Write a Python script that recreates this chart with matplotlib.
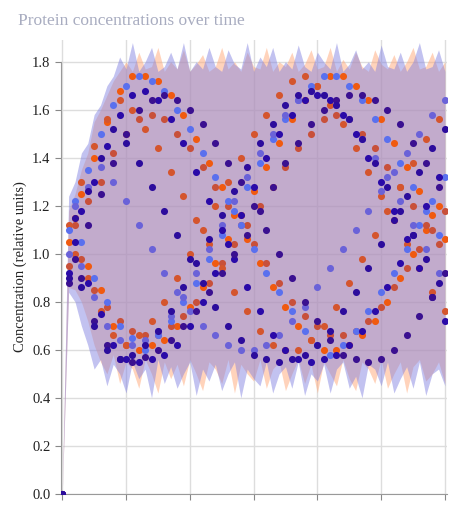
import numpy as np
import matplotlib
matplotlib.use("Agg")
import matplotlib.pyplot as plt

series_blue_a = [0,1.10,1.22,1.05,1.35,0.90,1.50,0.80,1.62,0.70,1.70,0.65,1.74,0.60,1.72,0.66,1.68,0.72,1.60,0.80,1.52,0.88,1.42,0.98,1.32,1.08,1.22,1.18,1.12,1.28,1.02,1.38,0.92,1.48,0.84,1.56,0.76,1.64,0.68,1.70,0.62,1.74,0.58,1.74,0.62,1.70,0.68,1.64,0.76,1.56,0.84,1.48,0.92,1.38,1.02,1.28,1.12,1.18,1.22,1.08,1.32]
series_dark_b = [0,0.92,1.05,1.18,0.88,1.30,0.75,1.45,0.62,1.58,0.56,1.66,0.55,1.68,0.56,1.64,0.58,1.56,0.62,1.46,0.70,1.34,0.80,1.22,0.92,1.10,1.04,0.98,1.16,0.86,1.28,0.76,1.40,0.66,1.50,0.60,1.58,0.56,1.64,0.55,1.66,0.56,1.64,0.58,1.58,0.62,1.50,0.68,1.40,0.76,1.30,0.86,1.18,0.96,1.06,1.08,0.94,1.20,0.82,1.32,0.72]
series_orange_c = [0,1.05,1.15,1.25,0.95,1.40,0.85,1.55,0.70,1.68,0.62,1.74,0.60,1.74,0.62,1.72,0.64,1.66,0.70,1.58,0.78,1.48,0.86,1.38,0.96,1.28,1.06,1.16,1.16,1.06,1.26,0.96,1.36,0.86,1.46,0.78,1.56,0.70,1.64,0.64,1.70,0.60,1.74,0.60,1.74,0.62,1.70,0.66,1.64,0.72,1.56,0.80,1.46,0.90,1.36,1.00,1.26,1.10,1.16,1.20,1.06]
series_red_d = [0,0.95,1.12,0.98,1.22,0.85,1.30,0.78,1.42,0.72,1.50,0.68,1.56,0.66,1.58,0.66,1.56,0.70,1.50,0.74,1.44,0.80,1.36,0.88,1.28,0.96,1.20,1.04,1.12,1.12,1.04,1.20,0.96,1.28,0.88,1.36,0.80,1.44,0.74,1.50,0.70,1.56,0.66,1.58,0.66,1.56,0.68,1.50,0.72,1.44,0.78,1.36,0.86,1.28,0.94,1.20,1.02,1.12,1.10,1.04,1.18]
series_dark_e = [0,0.88,0.98,0.90,1.12,0.72,1.25,0.62,1.38,0.56,1.50,0.55,1.60,0.57,1.64,0.60,1.66,0.64,1.64,0.70,1.60,0.76,1.54,0.84,1.46,0.92,1.38,1.00,1.30,1.08,1.20,1.18,1.10,1.28,1.00,1.38,0.90,1.46,0.80,1.54,0.72,1.60,0.64,1.64,0.58,1.66,0.56,1.66,0.55,1.64,0.56,1.60,0.60,1.54,0.66,1.46,0.74,1.38,0.82,1.28,0.92]
series_blue_f = [0,1.00,1.20,0.95,1.28,0.82,1.36,0.70,1.30,0.64,1.22,0.62,1.12,0.64,1.02,0.68,0.92,0.74,0.84,0.82,0.76,0.92,0.70,1.02,0.66,1.12,0.62,1.22,0.60,1.32,0.60,1.42,0.62,1.50,0.66,1.58,0.72,1.64,0.78,1.68,0.86,1.66,0.94,1.62,1.02,1.56,1.10,1.48,1.18,1.40,1.26,1.32,1.34,1.22,1.42,1.12,1.50,1.02,1.58,0.92,1.64]
series_orange_g = [0,1.12,1.00,1.30,0.90,1.45,0.76,1.56,0.66,1.64,0.62,1.60,0.66,1.52,0.72,1.44,0.80,1.34,0.90,1.24,1.00,1.14,1.10,1.04,1.20,0.94,1.30,0.84,1.40,0.76,1.50,0.68,1.58,0.62,1.66,0.60,1.72,0.60,1.74,0.64,1.70,0.70,1.62,0.78,1.54,0.88,1.44,0.98,1.34,1.08,1.24,1.18,1.14,1.28,1.04,1.38,0.94,1.48,0.84,1.56,0.76]
series_dark_h = [0,0.90,1.15,0.86,1.26,0.70,1.40,0.60,1.52,0.56,1.46,0.58,1.38,0.62,1.28,0.68,1.18,0.76,1.08,0.86,0.98,0.96,0.88,1.06,0.78,1.16,0.70,1.26,0.64,1.36,0.58,1.46,0.56,1.54,0.55,1.62,0.56,1.66,0.58,1.68,0.62,1.66,0.68,1.62,0.76,1.56,0.84,1.48,0.94,1.38,1.04,1.28,1.14,1.18,1.24,1.08,1.34,0.98,1.44,0.88,1.52]

orange_upper = [0,1.18,1.25,1.35,1.42,1.55,1.60,1.66,1.72,1.76,1.80,1.76,1.84,1.77,1.78,1.86,1.76,1.80,1.77,1.85,1.76,1.79,1.83,1.76,1.78,1.86,1.77,1.80,1.76,1.84,1.78,1.77,1.86,1.76,1.80,1.78,1.84,1.76,1.79,1.85,1.77,1.78,1.86,1.76,1.81,1.77,1.84,1.78,1.76,1.85,1.79,1.77,1.83,1.76,1.80,1.86,1.77,1.78,1.84,1.76,1.80]
orange_lower = [0,0.86,0.85,0.80,0.72,0.62,0.55,0.50,0.58,0.46,0.55,0.52,0.44,0.56,0.50,0.42,0.55,0.48,0.54,0.45,0.56,0.50,0.43,0.55,0.52,0.46,0.56,0.42,0.54,0.50,0.47,0.56,0.44,0.52,0.55,0.43,0.50,0.56,0.46,0.54,0.42,0.55,0.50,0.45,0.56,0.48,0.43,0.55,0.52,0.46,0.56,0.44,0.50,0.55,0.42,0.53,0.56,0.47,0.50,0.55,0.46]
blue_upper = [0,1.24,1.30,1.42,1.46,1.58,1.62,1.70,1.74,1.82,1.77,1.88,1.76,1.80,1.86,1.76,1.78,1.84,1.77,1.88,1.76,1.80,1.77,1.86,1.78,1.76,1.85,1.79,1.77,1.88,1.76,1.82,1.78,1.86,1.76,1.80,1.77,1.87,1.78,1.76,1.84,1.80,1.77,1.88,1.76,1.79,1.85,1.77,1.80,1.76,1.87,1.78,1.77,1.84,1.76,1.80,1.88,1.77,1.78,1.85,1.76]
blue_lower = [0,0.84,0.80,0.70,0.62,0.52,0.56,0.45,0.54,0.50,0.42,0.55,0.48,0.52,0.40,0.56,0.46,0.53,0.44,0.50,0.55,0.41,0.52,0.47,0.54,0.43,0.50,0.55,0.40,0.52,0.48,0.45,0.55,0.42,0.50,0.53,0.44,0.55,0.41,0.50,0.47,0.54,0.42,0.52,0.55,0.44,0.49,0.40,0.54,0.52,0.45,0.55,0.42,0.48,0.53,0.44,0.55,0.41,0.50,0.52,0.45]

t = np.arange(len(series_blue_a))
y_ticks = [0.0, 0.2, 0.4, 0.6, 0.8, 1.0, 1.2, 1.4, 1.6, 1.8]

fig = plt.figure(figsize=(4.55, 5.15), dpi=100)
fig.patch.set_facecolor('white')
ax = fig.add_axes([0.134, 0.041, 0.848, 0.881])

ax.fill_between(t, orange_lower, orange_upper, color='#ffa878', alpha=0.5, lw=0, zorder=1)
ax.fill_between(t, blue_lower, blue_upper, color='#8080e0', alpha=0.48, lw=0, zorder=1)

styles = [(series_orange_c, '#f05a10'), (series_red_d, '#c8503a'), (series_orange_g, '#d4552e'),
          (series_blue_a, '#5a70ee'), (series_blue_f, '#6a62d8'),
          (series_dark_b, '#2a0aa8'), (series_dark_e, '#3a1090'), (series_dark_h, '#2c0c9c')]
for s, c in styles:
    ax.scatter(t, s, s=26, color=c, lw=0, zorder=3)

ax.set_xlim(-0.2, 60.3)
ax.set_ylim(0, 1.89)
ax.set_yticks(y_ticks)
ax.set_yticklabels([f"{v:.1f}" for v in y_ticks], family='Liberation Serif', fontsize=10.5)
ax.set_xticks(np.arange(0, 61, 10))
ax.set_xticklabels([])
ax.grid(True, color='#dddddd', lw=1, zorder=0)
ax.set_axisbelow(True)
for k in ['top', 'right']:
    ax.spines[k].set_visible(False)
ax.spines['left'].set_bounds(0, 1.8)
for k in ['left', 'bottom']:
    ax.spines[k].set_color('#999999')
ax.tick_params(colors='#888888', labelcolor='#222222', length=4)
ax.set_ylabel("Concentration (relative units)", family='Liberation Serif', fontsize=10.5, color='#222222')
fig.text(0.04, 0.975, "Protein concentrations over time", family='Liberation Serif', fontsize=12.5, color='#a8acc0', va='top')
fig.savefig("out.png", dpi=100)
